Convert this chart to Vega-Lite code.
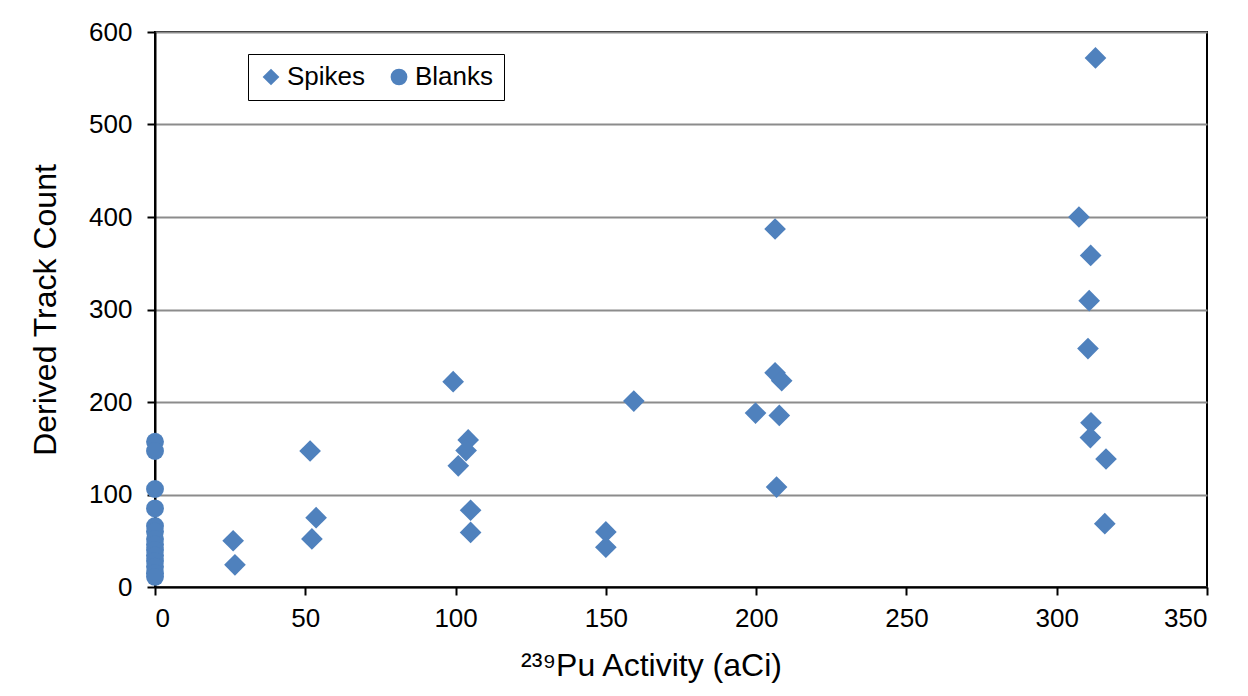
{
  "$schema": "https://vega.github.io/schema/vega-lite/v6.json",
  "width": 1052,
  "height": 555,
  "autosize": "none",
  "padding": {"left": 155, "top": 32, "right": 41, "bottom": 109},
  "background": "white",
  "config": {
    "font": "Liberation Sans",
    "view": {"stroke": "black", "strokeWidth": 2}
  },
  "data": {
    "values": [
      {"activity": 0, "count": 157, "type": "Blanks"},
      {"activity": 0, "count": 147, "type": "Blanks"},
      {"activity": 0, "count": 106, "type": "Blanks"},
      {"activity": 0, "count": 85, "type": "Blanks"},
      {"activity": 0, "count": 66, "type": "Blanks"},
      {"activity": 0, "count": 60, "type": "Blanks"},
      {"activity": 0, "count": 52, "type": "Blanks"},
      {"activity": 0, "count": 46, "type": "Blanks"},
      {"activity": 0, "count": 40, "type": "Blanks"},
      {"activity": 0, "count": 34, "type": "Blanks"},
      {"activity": 0, "count": 28, "type": "Blanks"},
      {"activity": 0, "count": 22, "type": "Blanks"},
      {"activity": 0, "count": 15, "type": "Blanks"},
      {"activity": 0, "count": 11, "type": "Blanks"},
      {"activity": 26, "count": 50, "type": "Spikes"},
      {"activity": 26.6, "count": 24, "type": "Spikes"},
      {"activity": 51.6, "count": 147, "type": "Spikes"},
      {"activity": 52.2, "count": 52, "type": "Spikes"},
      {"activity": 53.6, "count": 75, "type": "Spikes"},
      {"activity": 99.2, "count": 222, "type": "Spikes"},
      {"activity": 104.2, "count": 159, "type": "Spikes"},
      {"activity": 103.5, "count": 147.5, "type": "Spikes"},
      {"activity": 100.9, "count": 131, "type": "Spikes"},
      {"activity": 105, "count": 83, "type": "Spikes"},
      {"activity": 105, "count": 59, "type": "Spikes"},
      {"activity": 150, "count": 59.5, "type": "Spikes"},
      {"activity": 150, "count": 43, "type": "Spikes"},
      {"activity": 159.3, "count": 201, "type": "Spikes"},
      {"activity": 199.8, "count": 188, "type": "Spikes"},
      {"activity": 206.3, "count": 387, "type": "Spikes"},
      {"activity": 206.3, "count": 231.5, "type": "Spikes"},
      {"activity": 208.5, "count": 223, "type": "Spikes"},
      {"activity": 207.7, "count": 185.5, "type": "Spikes"},
      {"activity": 206.8, "count": 108, "type": "Spikes"},
      {"activity": 312.9, "count": 572, "type": "Spikes"},
      {"activity": 307.4, "count": 400, "type": "Spikes"},
      {"activity": 311.3, "count": 358.5, "type": "Spikes"},
      {"activity": 310.8, "count": 309.5, "type": "Spikes"},
      {"activity": 310.4, "count": 257.8, "type": "Spikes"},
      {"activity": 311.4, "count": 177.6, "type": "Spikes"},
      {"activity": 311.2, "count": 161.5, "type": "Spikes"},
      {"activity": 316.4, "count": 138.4, "type": "Spikes"},
      {"activity": 316, "count": 68.5, "type": "Spikes"}
    ]
  },
  "mark": {"type": "point", "filled": true, "opacity": 1, "color": "#4F81BD"},
  "encoding": {
    "x": {
      "field": "activity",
      "type": "quantitative",
      "scale": {"domain": [0, 350], "nice": false, "zero": true},
      "axis": {
        "values": [0, 50, 100, 150, 200, 250, 300, 350],
        "grid": false,
        "title": "²³⁹Pu Activity (aCi)",
        "titleX": 496,
        "labelFont": "Liberation Sans",
        "titleFont": "Liberation Sans",
        "labelFontSize": 26,
        "titleFontSize": 32,
        "titleFontWeight": "normal",
        "labelColor": "black",
        "titleColor": "black",
        "domainColor": "black",
        "domainWidth": 2,
        "tickColor": "black",
        "tickWidth": 2,
        "tickSize": 8,
        "labelPadding": 10,
        "titlePadding": 19
      }
    },
    "y": {
      "field": "count",
      "type": "quantitative",
      "scale": {"domain": [0, 600], "nice": false},
      "axis": {
        "values": [0, 100, 200, 300, 400, 500, 600],
        "grid": true,
        "gridColor": "#8c8c8c",
        "gridWidth": 2,
        "gridOpacity": 1,
        "title": "Derived Track Count",
        "labelFont": "Liberation Sans",
        "titleFont": "Liberation Sans",
        "labelFontSize": 26,
        "titleFontSize": 32,
        "titleFontWeight": "normal",
        "labelColor": "black",
        "titleColor": "black",
        "domainColor": "black",
        "domainWidth": 2,
        "tickColor": "black",
        "tickWidth": 2,
        "tickSize": 8,
        "labelPadding": 15,
        "titlePadding": 26
      }
    },
    "size": {
      "condition": {"test": "datum.type === 'Spikes'", "value": 470},
      "value": 320
    },
    "shape": {
      "field": "type",
      "type": "nominal",
      "scale": {"domain": ["Spikes", "Blanks"], "range": ["diamond", "circle"]},
      "legend": {
        "title": null,
        "orient": "none",
        "direction": "horizontal",
        "legendX": 93,
        "legendY": 22,
        "labelFontSize": 26,
        "labelFont": "Liberation Sans",
        "labelColor": "black",
        "symbolFillColor": "#4F81BD",
        "symbolStrokeColor": "#4F81BD",
        "symbolSize": 280,
        "columnPadding": 20,
        "labelOffset": 3,
        "strokeColor": "black",
        "fillColor": "white",
        "padding": 10
      }
    }
  }
}
